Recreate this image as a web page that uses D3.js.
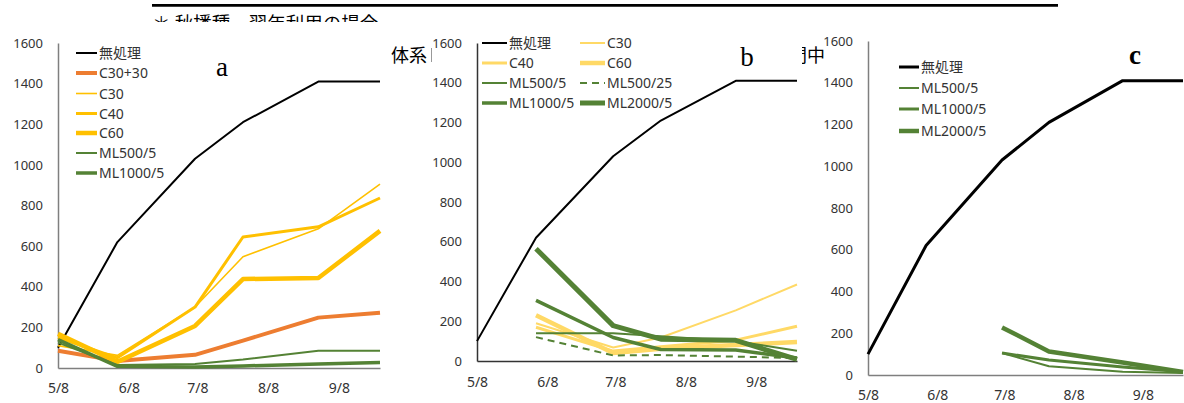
<!DOCTYPE html>
<html>
<head>
<meta charset="utf-8">
<script src="https://cdn.jsdelivr.net/npm/d3@7"></script>
<style>
  html, body { margin: 0; padding: 0; background: #fff; }
  svg { display: block; }
  text { font-family: "Noto Sans", "Noto Sans CJK JP", sans-serif; }
</style>
</head>
<body>
<svg id="fig" width="1184" height="403"></svg>
<script>
// Sampling dates (month/day) and the month ticks shown on the x axes
const sampleDates = ["5/8", "6/3", "7/7", "7/28", "8/30", "9/26"];
const tickLabels = ["5/8", "6/8", "7/8", "8/8", "9/8"];
const yTicks = [0, 200, 400, 600, 800, 1000, 1200, 1400, 1600];

// Panel a
const aControl = [100, 620, 1030, 1210, 1410, 1410];
const aC3030   = [85, 35, 65, 135, 248, 272];
const aC30     = [110, 62, 300, 548, 685, 905];
const aC40     = [150, 50, 300, 645, 695, 837];
const aC60     = [168, 30, 207, 438, 443, 675];
const aML500   = [125, 15, 20, 42, 85, 85];
const aML1000  = [140, 8, 5, 10, 20, 27];

// Panel b
const bControl  = [100, 620, 1030, 1210, 1410, 1410];
const bC30      = [null, 190, 68, 118, 255, 385];
const bC40      = [null, 170, 50, 72, 105, 175];
const bC60      = [null, 230, 40, 62, 80, 95];
const bML500_5  = [null, 140, 140, 125, 100, 52];
const bML500_25 = [null, 120, 28, 30, 22, 15];
const bML1000   = [null, 305, 118, 58, 55, 15];
const bML2000   = [null, 565, 178, 110, 104, 8];

// Panel c
const cControl = [100, 620, 1030, 1210, 1410, 1410];
const cML500   = [null, null, 105, 42, 15, 10];
const cML1000  = [null, null, 105, 72, 38, 15];
const cML2000  = [null, null, 228, 113, 60, 15];

const ORANGE = "#ED7D31", GOLD = "#FFC000", PALE = "#FFD966", GREEN = "#548235";

const parse = d3.timeParse("%Y/%m/%d");
const toDate = s => parse("2015/" + s);
const dates = sampleDates.map(toDate);
const tickDates = tickLabels.map(toDate);

const svg = d3.select("#fig");

// Document text around the figures
svg.append("line").attr("x1", 152).attr("x2", 1058).attr("y1", 5.3).attr("y2", 5.3)
  .attr("stroke", "#000").attr("stroke-width", 2.7);
svg.append("clipPath").attr("id", "headClip")
  .append("rect").attr("x", 0).attr("y", 0).attr("width", 1184).attr("height", 22);
svg.append("text").attr("clip-path", "url(#headClip)")
  .attr("x", 152).attr("y", 30).attr("font-size", 18.5)
  .style("font-family", "'Noto Sans CJK JP'")
  .text("＊ 秋播種，翌年利用の場合");
svg.append("text").attr("x", 391).attr("y", 62).attr("font-size", 18)
  .style("font-family", "'Noto Sans CJK JP'").text("体系");
svg.append("text").attr("x", 825).attr("y", 62).attr("font-size", 18)
  .attr("text-anchor", "end")
  .style("font-family", "'Noto Sans CJK JP'").text("期間中");

const panels = [
  {
    box: [0, 22, 390, 381], x: [58, 380], y: [368, 43], pad: 15.5,
    axisColor: "#7f7f7f", letter: "a", letterPos: [222, 76], letterWeight: "normal",
    series: [
      { name: "無処理",   values: aControl, color: "#000", width: 2 },
      { name: "C30+30",   values: aC3030, color: ORANGE, width: 4 },
      { name: "C30",      values: aC30, color: GOLD, width: 1.6 },
      { name: "C40",      values: aC40, color: GOLD, width: 3 },
      { name: "C60",      values: aC60, color: GOLD, width: 4.5 },
      { name: "ML500/5",  values: aML500, color: GREEN, width: 2 },
      { name: "ML1000/5", values: aML1000, color: GREEN, width: 3.5 }
    ],
    legend: { x0: 76, len: 21, rows: [53, 73, 93.5, 113.5, 133, 153, 173], cols: null }
  },
  {
    box: [432, 22, 370, 381], x: [477, 797], y: [361, 43], pad: 16.5,
    axisColor: "#333", letter: "b", letterPos: [747, 66], letterWeight: "normal",
    series: [
      { name: "無処理",    values: bControl, color: "#000", width: 2 },
      { name: "C30",       values: bC30, color: PALE, width: 2 },
      { name: "C40",       values: bC40, color: PALE, width: 3 },
      { name: "C60",       values: bC60, color: PALE, width: 4.5 },
      { name: "ML500/5",   values: bML500_5, color: GREEN, width: 2 },
      { name: "ML500/25",  values: bML500_25, color: GREEN, width: 2, dash: "7,5" },
      { name: "ML1000/5",  values: bML1000, color: GREEN, width: 3.5 },
      { name: "ML2000/5",  values: bML2000, color: GREEN, width: 5 }
    ],
    legend: { len: 25, grid: true, cols: [482, 580], rows: [43, 63, 83, 103] }
  },
  {
    box: [827, 22, 357, 381], x: [868, 1183], y: [375, 41], pad: 15,
    axisColor: "#7f7f7f", letter: "c", letterPos: [1135, 64], letterWeight: "bold",
    series: [
      { name: "無処理",   values: cControl, color: "#000", width: 3 },
      { name: "ML500/5",  values: cML500, color: GREEN, width: 2 },
      { name: "ML1000/5", values: cML1000, color: GREEN, width: 3 },
      { name: "ML2000/5", values: cML2000, color: GREEN, width: 4.5 }
    ],
    legend: { x0: 899, len: 20, rows: [67, 88, 109, 131], cols: null }
  }
];

// Short edge mark at the left of the middle panel
svg.append("line").attr("x1", 431.5).attr("x2", 431.5).attr("y1", 48).attr("y2", 62)
  .attr("stroke", "#999").attr("stroke-width", 1);

panels.forEach(p => {
  const g = svg.append("g");
  g.append("rect").attr("x", p.box[0]).attr("y", p.box[1])
    .attr("width", p.box[2]).attr("height", p.box[3]).attr("fill", "#fff");

  const x = d3.scaleTime().domain([dates[0], dates[dates.length - 1]]).range(p.x);
  const y = d3.scaleLinear().domain([0, 1600]).range(p.y);

  // y axis
  const ya = g.append("g").attr("transform", `translate(${p.x[0]},0)`)
    .call(d3.axisLeft(y).tickValues(yTicks).tickFormat(d3.format("d"))
      .tickSize(0).tickSizeOuter(0).tickPadding(15));
  ya.select(".domain").attr("stroke", p.axisColor).attr("stroke-width", 1.5);
  ya.selectAll("text").attr("font-size", 13).attr("fill", "#333")
    .style("font-family", "'Noto Sans'");

  // x axis
  const xa = g.append("g").attr("transform", `translate(0,${p.y[0]})`)
    .call(d3.axisBottom(x).tickValues(tickDates).tickFormat((d, i) => tickLabels[i])
      .tickSize(0).tickSizeOuter(0).tickPadding(p.pad));
  xa.select(".domain").attr("stroke", p.axisColor).attr("stroke-width", 1.5);
  xa.selectAll("text").attr("font-size", 14).attr("fill", "#333")
    .style("font-family", "'Noto Sans'");

  // series lines
  const line = d3.line()
    .defined(d => d.v != null)
    .x(d => x(d.t)).y(d => y(d.v));
  p.series.forEach(s => {
    const pts = s.values.map((v, i) => ({ t: dates[i], v }));
    g.append("path").datum(pts)
      .attr("d", line)
      .attr("fill", "none")
      .attr("stroke", s.color)
      .attr("stroke-width", s.width)
      .attr("stroke-linejoin", "round")
      .attr("stroke-dasharray", s.dash || null);
  });

  // legend
  const L = p.legend;
  p.series.forEach((s, i) => {
    let lx, ly;
    if (L.grid) {
      lx = L.cols[i % 2];
      ly = L.rows[Math.floor(i / 2)];
    } else {
      lx = L.x0;
      ly = L.rows[i];
    }
    g.append("line").attr("x1", lx).attr("x2", lx + L.len)
      .attr("y1", ly).attr("y2", ly)
      .attr("stroke", s.color).attr("stroke-width", s.width)
      .attr("stroke-dasharray", s.dash || null);
    g.append("text").attr("x", lx + L.len + 2).attr("y", ly)
      .attr("dy", "0.36em").attr("font-size", 14).attr("fill", "#333")
      .text(s.name);
  });

  // panel letter
  g.append("text").attr("x", p.letterPos[0]).attr("y", p.letterPos[1])
    .attr("text-anchor", "middle").attr("font-size", 27)
    .attr("font-weight", p.letterWeight)
    .style("font-family", "'Liberation Serif', serif")
    .text(p.letter);
});
</script>
</body>
</html>
